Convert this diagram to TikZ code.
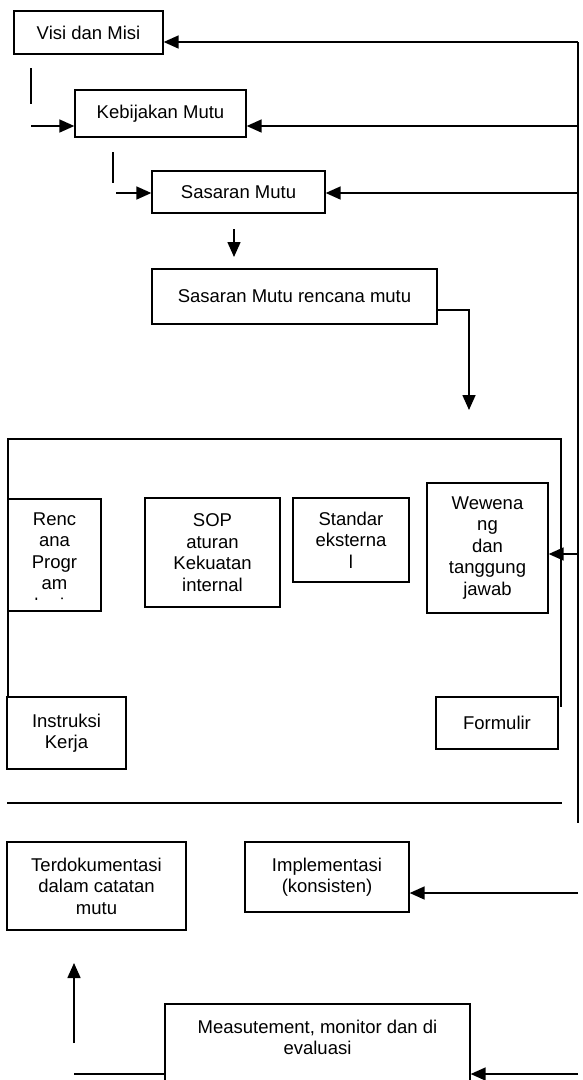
\documentclass[tikz,border=0pt]{standalone}
\usepackage{fontspec}
\setmainfont{Liberation Sans}
\usetikzlibrary{arrows.meta}

\begin{document}
\begin{tikzpicture}[%
    x=1pt, y=-1pt,
    font=\fontsize{18.5}{21.5}\selectfont,
    block/.style={draw, line width=1.3pt, align=center, inner sep=0pt},
    flow/.style={line width=1.6pt, -{Triangle[length=15pt,width=13pt]}},
    plain/.style={line width=1.6pt},
    rule/.style={line width=1.3pt}]
  \useasboundingbox (0,0) rectangle (583,1080);
  \clip (0,0) rectangle (583,1080);

  \node[block, minimum width=149pt, minimum height=43pt] (visi) at (88.5,32.5) {Visi dan Misi};
  \node[block, minimum width=171pt, minimum height=47pt] (kebijakan) at (160.5,113.5) {Kebijakan Mutu};
  \node[block, minimum width=173pt, minimum height=42pt] (sasaran) at (238.5,192) {Sasaran Mutu};
  \node[block, minimum width=285pt, minimum height=55pt] (rencana) at (294.5,296.5) {Sasaran Mutu rencana mutu};

  % dokumen
  \node[block, minimum width=93pt, minimum height=112pt] (renc) at (54.5,555) {};
  \begin{scope}
    \clip (8,499) rectangle (101,599);
    \node[align=center] (renctext) at (54.5,564) {Renc\\ana\\Progr\\am\\kerja};
  \end{scope}
  \node[block, minimum width=135pt, minimum height=109pt] (sop) at (212.5,552.5) {SOP\\aturan\\Kekuatan\\internal};
  \node[block, minimum width=116pt, minimum height=84pt] (standar) at (351,540) {Standar\\eksterna\\l};
  \node[block, minimum width=121pt, minimum height=130pt] (wewenang) at (487.5,548) {Wewena\\ng\\dan\\tanggung\\jawab};
  \node[block, minimum width=119pt, minimum height=72pt] (instruksi) at (66.5,733) {Instruksi\\Kerja};
  \node[block, minimum width=122pt, minimum height=52pt] (formulir) at (497,723) {Formulir};

  \node[block, minimum width=179pt, minimum height=88pt] (terdok) at (96.5,886) {Terdokumentasi\\dalam catatan\\mutu};
  \node[block, minimum width=164pt, minimum height=70pt] (impl) at (327,877) {Implementasi\\(konsisten)};
  \node[block, minimum width=305pt, minimum height=140pt] (meas) at (317.5,1074) {};
  \node[align=center] (meastext) at (317.5,1037.5) {Measutement, monitor dan di\\evaluasi};

  % garis balik kanan
  \coordinate (rtop) at (578,42);
  \coordinate (rbot) at (578,823);
  \coordinate (r2) at (578,126);
  \coordinate (r3) at (578,193);
  \coordinate (r5) at (578,554);
  \coordinate (r6) at (578,893);
  \coordinate (r7) at (578,1074);
  \draw[rule] (rtop) -- (rbot);
  \draw[flow] (rtop) -- (rtop -| visi.east);
  \draw[flow] (r2) -- (r2 -| kebijakan.east);
  \draw[flow] (r3) -- (r3 -| sasaran.east);
  \draw[flow] (r5) -- (r5 -| wewenang.east);
  \draw[flow] (r6) -- (r6 -| impl.east);
  \draw[flow] (r7) -- (meas.east);

  % tangga kiri
  \coordinate (s1a) at (31,68);
  \coordinate (s1b) at (31,104);
  \coordinate (s1c) at (31,126);
  \coordinate (s2a) at (113,152);
  \coordinate (s2b) at (113,183);
  \coordinate (s2c) at (116,193);
  \draw[plain] (s1a) -- (s1b);
  \draw[flow] (s1c) -- (s1c -| kebijakan.west);
  \draw[plain] (s2a) -- (s2b);
  \draw[flow] (s2c) -- (s2c -| sasaran.west);

  \coordinate (d1) at (234,229);
  \coordinate (d2) at (234,257);
  \draw[flow] (d1) -- (d2);

  \coordinate (rm) at (469,410);
  \draw[flow] ([yshift=-13.5pt]rencana.east) -| (rm);

  % bingkai dokumen
  \coordinate (fl) at (8,697);
  \coordinate (ftop) at (8,439);
  \coordinate (fr) at (561,707);
  \draw[rule] (fl) -- (ftop) -| (fr);

  \coordinate (sepl) at (7,803);
  \coordinate (sepr) at (562,803);
  \draw[rule] (sepl) -- (sepr);

  \coordinate (u1) at (74,1043);
  \coordinate (u2) at (74,963);
  \draw[flow] (u1) -- (u2);
  \coordinate (m1) at (74,1074);
  \draw[plain] (m1) -- (meas.west);
\end{tikzpicture}
\end{document}
